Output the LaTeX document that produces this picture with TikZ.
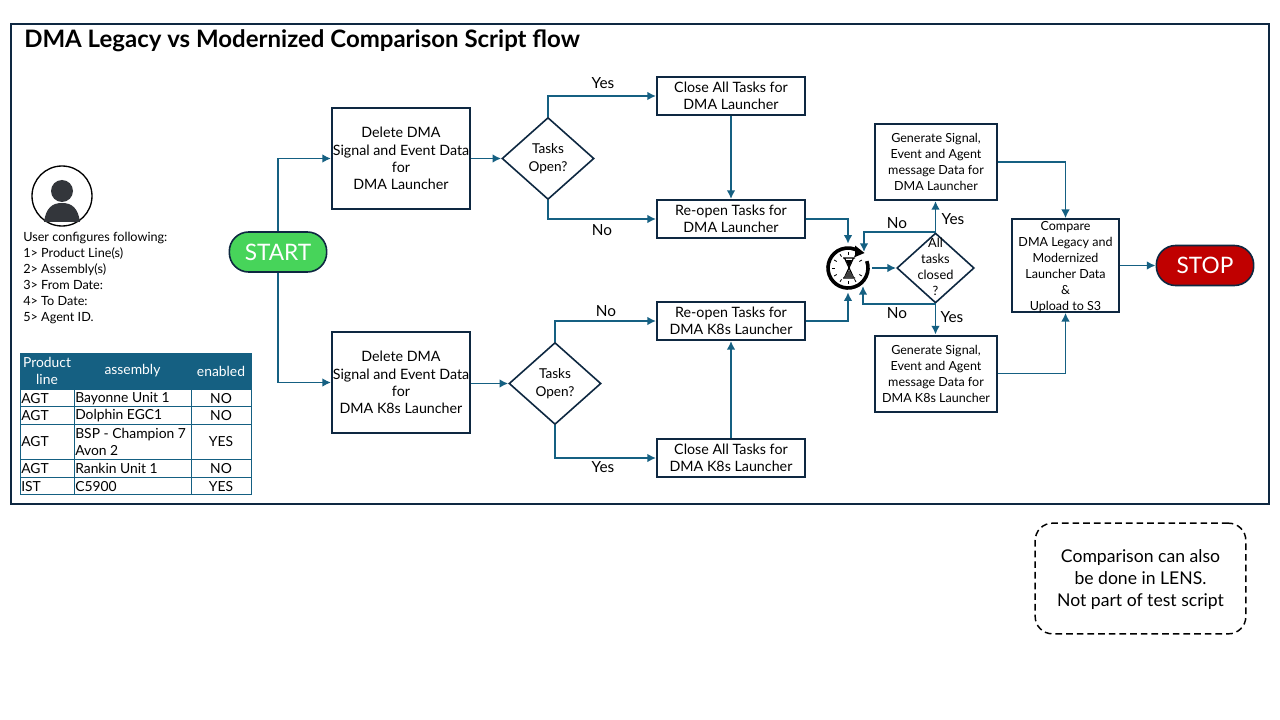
\documentclass[tikz,border=0pt]{standalone}
\usepackage{fontspec}
\setmainfont{Lato}
\usetikzlibrary{arrows.meta,shapes.geometric}
\definecolor{navy}{HTML}{0E2841}
\definecolor{teal}{HTML}{156082}
\definecolor{startgreen}{HTML}{47D45A}
\definecolor{stopred}{HTML}{C00000}
\definecolor{icongray}{HTML}{33363B}
\tikzset{
  procbox/.style={shape=rectangle, draw=navy, line width=1.5pt, align=center, inner sep=0pt, font=\fontsize{10.7}{13}\selectfont},
  smallbox/.style={procbox, font=\fontsize{9.4}{12}\selectfont},
  decision/.style={shape=diamond, draw=navy, line width=1.2pt, inner sep=0pt, aspect=1.12},
  decisiontext/.style={align=center, inner sep=0pt, font=\fontsize{10.2}{13}\selectfont},
  terminal/.style={shape=rectangle, rounded corners=14.5pt, draw=navy, line width=1.2pt, text=white, minimum width=73pt, minimum height=30pt, font=\fontsize{17}{18}\selectfont},
  flow/.style={draw=teal, line width=1.4pt, -{Latex[length=6.5pt,width=6.5pt]}},
  answer/.style={inner sep=0pt, font=\fontsize{11.5}{13}\selectfont},
  cell/.style={inner sep=0pt, font=\fontsize{10.4}{11.5}\selectfont},
  headcell/.style={cell, text=white, align=center, font=\fontsize{10.4}{12.6}\selectfont},
  rowline/.style={draw=teal, line width=0.6pt}
}
\begin{document}
\begin{tikzpicture}[x=0.75pt, y=-0.75pt]
  \useasboundingbox (0,0) rectangle (1280,720);
  \fill[white] (0,0) rectangle (1280,720);
  \node[draw=navy, line width=1.5pt, minimum width=943.5pt, minimum height=360pt, inner sep=0pt] (frame) at (640,264) {};
  \node[anchor=west, inner sep=0pt, font=\fontsize{18}{20}\selectfont\bfseries] (title) at (24,41) {DMA Legacy vs Modernized Comparison Script flow};

  % user icon
  \node[circle, draw=black, line width=1pt, minimum size=45pt, inner sep=0pt] (user) at (62,196) {};
  \node[circle, fill=icongray, minimum size=16.5pt, inner sep=0pt] (userhead) at (62,191) {};
  \fill[icongray] (44,222) .. controls (46,208) and (52,203) .. (62,203) .. controls (72,203) and (78,208) .. (80,222) -- cycle;
  \node[anchor=north west, align=left, inner sep=0pt, font=\fontsize{9.5}{12}\selectfont] (config) at (23,232) {User configures following:\\1> Product Line(s)\\2> Assembly(s)\\3> From Date:\\4> To Date:\\5> Agent ID.};

  % table
  \fill[teal] (20,353) rectangle (251,389);
  \draw[rowline] (20,353) rectangle (251,494);
  \foreach \yrow in {389,406,424,459,477} \draw[rowline] (20,\yrow) -- (251,\yrow);
  \foreach \xcol in {74,191} \draw[rowline] (\xcol,353) -- (\xcol,494);
  \node[headcell] (hline) at (47,371) {Product\\line};
  \node[headcell] (hassembly) at (132.5,371) {assembly};
  \node[headcell] (henabled) at (221,371) {enabled};
  \node[cell, anchor=west] (r1a) at (21,398.5) {AGT};
  \node[cell, anchor=west] (r1b) at (75,398.5) {Bayonne Unit 1};
  \node[cell] (r1c) at (221,398.5) {NO};
  \node[cell, anchor=west] (r2a) at (21,415.5) {AGT};
  \node[cell, anchor=west] (r2b) at (75,415.5) {Dolphin EGC1};
  \node[cell] (r2c) at (221,415.5) {NO};
  \node[cell, anchor=west] (r3a) at (21,442) {AGT};
  \node[cell, anchor=west, align=left, font=\fontsize{10.4}{12.6}\selectfont] (r3b) at (75,442) {BSP - Champion 7\\Avon 2};
  \node[cell] (r3c) at (221,442) {YES};
  \node[cell, anchor=west] (r4a) at (21,468.5) {AGT};
  \node[cell, anchor=west] (r4b) at (75,468.5) {Rankin Unit 1};
  \node[cell] (r4c) at (221,468.5) {NO};
  \node[cell, anchor=west] (r5a) at (21,486.5) {IST};
  \node[cell, anchor=west] (r5b) at (75,486.5) {C5900};
  \node[cell] (r5c) at (221,486.5) {YES};

  % flow nodes
  \node[terminal, fill=startgreen] (start) at (278,252) {START};
  \node[procbox, minimum width=103.5pt, minimum height=75.75pt] (delA) at (401,158.5) {Delete DMA\\Signal and Event Data\\for\\DMA Launcher};
  \node[procbox, minimum width=103.5pt, minimum height=75.75pt] (delB) at (401,382.5) {Delete DMA\\Signal and Event Data\\for\\DMA K8s Launcher};
  \node[decision, minimum width=69pt, minimum height=61.5pt] (openA) at (548,158.5) {};
  \node[decisiontext] (openAtext) at (548,158.5) {Tasks\\Open?};
  \node[decision, minimum width=69pt, minimum height=61.5pt] (openB) at (555,383.5) {};
  \node[decisiontext] (openBtext) at (555,383.5) {Tasks\\Open?};
  \node[procbox, minimum width=111pt, minimum height=28.5pt] (closeA) at (731,96) {Close All Tasks for\\DMA Launcher};
  \node[procbox, minimum width=111pt, minimum height=28.5pt] (reopenA) at (731,219) {Re-open Tasks for\\DMA Launcher};
  \node[procbox, minimum width=111pt, minimum height=28.5pt] (reopenB) at (731,321) {Re-open Tasks for\\DMA K8s Launcher};
  \node[procbox, minimum width=111pt, minimum height=28.5pt] (closeB) at (731,458) {Close All Tasks for\\DMA K8s Launcher};
  \node[smallbox, minimum width=91.5pt, minimum height=57pt] (genA) at (936,162) {Generate Signal,\\Event and Agent\\message Data for\\DMA Launcher};
  \node[smallbox, minimum width=91.5pt, minimum height=57pt] (genB) at (936,373.5) {Generate Signal,\\Event and Agent\\message Data for\\DMA K8s Launcher};
  \node[decision, minimum width=58pt, minimum height=52.5pt, aspect=1.1] (closed) at (935.5,268) {};
  \node[decisiontext, font=\fontsize{9.6}{12}\selectfont] (closedtext) at (935.5,267) {All\\tasks\\closed\\?};
  \node[smallbox, minimum width=80pt, minimum height=69.5pt] (compare) at (1065.5,265.5) {};
  \node[decisiontext, font=\fontsize{9.4}{12}\selectfont] (comparetext) at (1065.5,267.5) {Compare\\DMA Legacy and\\Modernized\\Launcher Data\\\&\\Upload to S3};
  \node[terminal, fill=stopred] (stop) at (1205,265.5) {STOP};

  % timer
  \node[circle, minimum size=36pt, inner sep=0pt] (timer) at (848,268) {};
  \draw[black, line width=2.7pt] (848,268) ++(-20:20) arc (-20:305:20);
  \fill[black] (855,245.5) -- (864.5,253) -- (855,257) -- cycle;
  \foreach \ang in {30,60,...,330} \draw[black, line width=0.6pt] (848,268) ++(\ang:16) -- ++(\ang:-3);
  \draw[black, line width=0.9pt] (843,258) -- (855,258) (843,278) -- (855,278)
    (844.5,258) -- (853.5,277.5) (853.5,258) -- (844.5,277.5);
  \fill[black] (846,260) -- (852,260) -- (849,267) -- cycle;
  \fill[black!75] (849,270) -- (854,277.5) -- (844,277.5) -- cycle;

  % connectors
  \draw[flow] (start.north) |- (delA.west);
  \draw[flow] (start.south) |- (delB.west);
  \draw[flow] (delA.east |- openA) -- (openA.west);
  \draw[flow] (delB.east |- openB) -- (openB.west);
  \draw[flow] (openA.north) |- (closeA.west);
  \draw[flow] (openA.south) |- (reopenA.west);
  \draw[flow] (closeA.south) -- (reopenA.north);
  \draw[flow] (openB.north) |- (reopenB.west);
  \draw[flow] (openB.south) |- (closeB.west);
  \draw[flow] (closeB.north) -- (reopenB.south);
  \draw[flow] (reopenA.east) -| (timer.north);
  \draw[flow] (reopenB.east) -| (timer.south);
  \draw[flow] (timer.east) -- (closed.west);
  \draw[flow] (closed.north) -- (closed.north |- genA.south);
  \draw[flow] (closed.south) -- (closed.south |- genB.north);
  \coordinate (backA) at (864,252);
  \coordinate (backB) at (863,286);
  \draw[flow] (closed.north) -| (backA);
  \draw[flow] (closed.south) -| (backB);
  \draw[flow] (genA.east) -| (compare.north);
  \draw[flow] (genB.east) -| (compare.south);
  \draw[flow] (compare.east) -- (stop.west);

  % labels
  \node[answer] (yesA) at (603,83) {Yes};
  \node[answer] (noA) at (602,230) {No};
  \node[answer] (noB) at (606,311) {No};
  \node[answer] (yesB) at (603,467) {Yes};
  \node[answer] (noC) at (897,223) {No};
  \node[answer] (yesC) at (953,219) {Yes};
  \node[answer] (noD) at (897,313) {No};
  \node[answer] (yesD) at (952,317) {Yes};

  % note
  \node[draw=black, dash pattern=on 5pt off 3pt, line width=1.1pt, rounded corners=13pt, minimum width=158pt, minimum height=83pt, inner sep=0pt] (note) at (1140.5,578.5) {};
  \node[align=center, inner sep=0pt, font=\fontsize{13.2}{16.5}\selectfont] (notetext) at (1140.5,580) {Comparison can also\\be done in LENS.\\Not part of test script};
\end{tikzpicture}
\end{document}
